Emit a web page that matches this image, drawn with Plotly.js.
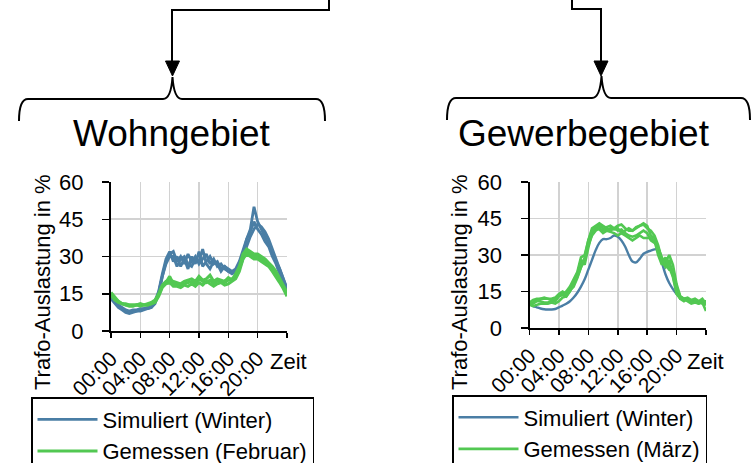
<!DOCTYPE html>
<html>
<head>
<meta charset="utf-8">
<script src="https://cdn.plot.ly/plotly-3.0.1.min.js"></script>
<style>html,body{margin:0;padding:0;background:#fff;}#chart{width:751px;height:463px;}</style>
</head>
<body>
<div id="chart"></div>
<script>
// ---- data (hours of day, 30-min steps) ----
const hours = [0,0.5,1,1.5,2,2.5,3,3.5,4,4.5,5,5.5,6,6.5,7,7.5,8,8.5,9,9.5,10,10.5,11,11.5,12,12.5,13,13.5,14,14.5,15,15.5,16,16.5,17,17.5,18,18.5,19,19.5,20,20.5,21,21.5,22,22.5,23,23.5,24];
const tickHours = [0,4,8,12,16,20,24];
const tickLabels = ["00:00","04:00","08:00","12:00","16:00","20:00",""];
const yTicks = [0,15,30,45,60];

// Wohngebiet – simulated (winter days)
const wohnSim1 = [13.5,11.5,10,9,8,7.5,8,8,8.5,9,9,9.5,11,15,22,28,31,32,28,30,27,31,28,30,27,29,31,27,29,26,27,25,24,24,25,28,33,37,40,44,41,39,36,34,30,27,23,20,16.5];
const wohnSim2 = [14,12,10.5,9.5,8.5,8,8.5,8.5,9,9,9.5,10,12,16,23,29,32,28,30,26,29,25,30,27,32,26,28,30,27,28,25,26,24,23,24,26,31,37,41,50,44,41,38,35,32,28,25,21,17];
const wohnSim3 = [13,11,9.5,8.5,7.5,7,7.5,8,8,8.5,9,9.5,11.5,15.5,22,27,30,30,26,29,30,27,26,29,28,33,27,25,28,27,24,26,25,24,23,25,29,34,38,41,43,42,40,37,33,29,25,21,17];
// Wohngebiet – measured (February days)
const wohnMeas1 = [15,13,12,11,10.5,10.5,10.5,10.5,10.5,10.5,10.5,11,12,14.5,18,19.5,22,19,19,18.5,19,19.5,20,19,21,20,19.5,20.5,19,20,20,19.5,20.5,21,22,25,30,32,31,30,30,29,28,27,25,23,20.5,18,15];
const wohnMeas2 = [14.5,12.5,11.5,11,10.5,10,10,10.5,10,10.5,10.5,11,11.5,14,17.5,19,19.5,18,18,17.5,18.5,18,19,18,19.5,18.5,20,19,18,19,19.5,18.5,19,20,21,24,29,31,30,29,29,28,27,26,24,22,19.5,17,14];
const wohnMeas3 = [15.5,13.5,12,11,11,10.5,10.5,10.5,11,10.5,11,11.5,12.5,15,18.5,20,20.5,20,19.5,19,20,20.5,21,20,22,20.5,21,22.5,20,21,20.5,20,21.5,20.5,23,26,31,33,32,31,31,30,29,27.5,26,24,21,18.5,15.5];

// Gewerbegebiet – simulated (winter)
const gewSim1 = [10,9,8.5,8,7.7,7.6,7.6,7.8,8.5,9.2,10,11,12.5,14.5,17,20,24,28,32,35,36.5,36.5,37,38,37.5,36,33.5,30,27.3,27,28.5,30.5,31.3,31.8,32.3,32.5,27,22,18.5,16,14,12.5,12,11.5,11.3,11,10.8,10.6,10.5];
// Gewerbegebiet – measured (March days)
const gewMeas1 = [10,10.5,11.5,12,12,12,12,12.5,14,15,14,16,19,22,28,26,33,39,41,42,41,40,41,40.5,41,39,40,41,40,41,42,43,42,38,37,31,27,25,28,22,15,12,11,12,11,10.5,11,12,10];
const gewMeas2 = [9.5,10,11,11,10.5,10.5,11,11,13,13.5,15,17,20,23,29,30,36,41,42,43,42,41,40,41,40,40.5,39,38,37.5,38,39,40,39,36,35,33,29,27,30,26,18,13,12,11.5,10.5,11,10,10.5,7];
const gewMeas3 = [10.5,11.5,12,12,12.5,12,11.5,12,13.5,14,13,15,18,21,25,28,34,38,40,41,40,41.5,42,41,42,42.5,41,40,40,41.5,42,42.5,41,40,38,34,28,26,24,24,17,13,12,12.5,11.5,12,11,10,9.5];
const gewMeas4 = [9.5,9,9.5,10,10,10,10.5,10,11,12.5,13,15.5,17,20.5,25,29,36,40,41,40.5,39,40,39.5,39,38,39,38,37,36,37,38,37,37,37,36,30,26,29,25,21,14,12,12,11,10,10.5,10,11,11];

const seriesSim = "Simuliert (Winter)";
const measLeft = "Gemessen (Februar)";
const measRight = "Gemessen (März)";

// ---- styling ----
const W = 751, H = 463;
const FONT = "Liberation Sans, Arial, sans-serif";
const BLUE = "#4a7ea5";
const GREEN = "#52c852";
const GRID = "#d2d2d2";

function mk(y, xa, ya, color, width, name, group, legend, show, shape) {
  return {x: hours, y: y, xaxis: xa, yaxis: ya, type: "scatter", mode: "lines",
    line: {color: color, width: width, shape: shape || "linear", smoothing: 1},
    name: name, legendgroup: group, legend: legend, showlegend: show, hoverinfo: "skip"};
}

const traces = [
  mk(wohnSim1, "x", "y", BLUE, 2.8, seriesSim, "ls", "legend", true),
  mk(wohnSim2, "x", "y", BLUE, 2.8, seriesSim, "ls", "legend", false),
  mk(wohnSim3, "x", "y", BLUE, 2.8, seriesSim, "ls", "legend", false),
  mk(wohnMeas1, "x", "y", GREEN, 3, measLeft, "lm", "legend", true),
  mk(wohnMeas2, "x", "y", GREEN, 3, measLeft, "lm", "legend", false),
  mk(wohnMeas3, "x", "y", GREEN, 3, measLeft, "lm", "legend", false),
  mk(gewSim1, "x2", "y2", BLUE, 2.4, seriesSim, "rs", "legend2", true, "spline"),
  mk(gewMeas1, "x2", "y2", GREEN, 2.6, measRight, "rm", "legend2", true),
  mk(gewMeas2, "x2", "y2", GREEN, 2.6, measRight, "rm", "legend2", false),
  mk(gewMeas3, "x2", "y2", GREEN, 2.6, measRight, "rm", "legend2", false),
  mk(gewMeas4, "x2", "y2", GREEN, 2.6, measRight, "rm", "legend2", false)
];

function xax(l, r, anchor) {
  return {domain: [l / W, r / W], anchor: anchor, range: [0, 24], tickmode: "array",
    tickvals: tickHours, ticktext: tickLabels, tickangle: -45,
    tickfont: {family: FONT, size: 21, color: "#000"},
    showgrid: true, gridcolor: GRID, gridwidth: 1.6, zeroline: false,
    showline: true, linecolor: "#000", linewidth: 2,
    ticks: "outside", ticklen: 5, tickwidth: 1.5, tickcolor: "#000", fixedrange: true, automargin: false};
}
function yax(top, bottom, anchor) {
  return {domain: [1 - bottom / H, 1 - top / H], anchor: anchor, range: [0, 60],
    tickmode: "array", tickvals: yTicks,
    tickfont: {family: FONT, size: 22, color: "#000"},
    showgrid: true, gridcolor: GRID, gridwidth: 1.6, zeroline: false,
    showline: true, linecolor: "#000", linewidth: 2,
    ticks: "outside", ticklen: 7, tickwidth: 1.5, tickcolor: "#000",
    ticklabelstandoff: 14, fixedrange: true, automargin: false};
}

function P(pts) { // pixel path -> paper path
  return pts.replace(/(-?[\d.]+),(-?[\d.]+)/g, (m, a, b) => (a / W).toFixed(5) + "," + (1 - b / H).toFixed(5));
}
function pathShape(d, fill) {
  return {type: "path", xref: "paper", yref: "paper", path: P(d),
    line: {color: "#000", width: fill ? 1 : 2}, fillcolor: fill ? "#000" : "rgba(0,0,0,0)", layer: "above"};
}

const shapes = [
  // left connector + arrow
  pathShape("M329,-2 L329,10 L172,10 L172,64"),
  pathShape("M165.5,61 L179.5,61 L172.5,76 Z", true),
  // left brace
  pathShape("M19,121 Q19,99 28,99 L163,99 Q171,99 172.5,77 Q174,99 182,99 L316,99 Q325,99 325,121"),
  // right connector + arrow
  pathShape("M572,-2 L572,9 L601,9 L601,64"),
  pathShape("M594,61 L608,61 L601,76 Z", true),
  // right brace
  pathShape("M447,120 Q447,98 456,98 L592,98 Q600,98 601.5,76 Q603,98 611,98 L741,98 Q750,98 750,120")
];

function ann(text, x, y, size, angle) {
  return {text: text, x: x / W, y: 1 - y / H, xref: "paper", yref: "paper",
    xanchor: "center", yanchor: "middle", showarrow: false, textangle: angle || 0,
    font: {family: FONT, size: size, color: "#000"}};
}

const annotations = [
  ann("Wohngebiet", 172, 133, 37),
  ann("Gewerbegebiet", 584, 133, 37),
  ann("Trafo-Auslastung in %", 42, 282, 22, -90),
  ann("Trafo-Auslastung in %", 459, 282, 22, -90),
  ann("Zeit", 288, 361, 22),
  ann("Zeit", 705, 361, 22)
];

function leg(x, y) {
  return {x: x / W, y: 1 - y / H, xref: "paper", yref: "paper", xanchor: "left", yanchor: "top",
    bordercolor: "#000", borderwidth: 1.5, bgcolor: "rgba(255,255,255,0)",
    font: {family: FONT, size: 22, color: "#000"}, traceorder: "grouped", tracegroupgap: 0,
    itemwidth: 60, itemclick: false, itemdoubleclick: false};
}

const layout = {
  width: W, height: H, margin: {l: 0, r: 0, t: 0, b: 0, pad: 0, autoexpand: false},
  paper_bgcolor: "#fff", plot_bgcolor: "#fff",
  font: {family: FONT, color: "#000"},
  xaxis: xax(111, 287, "y"),
  yaxis: yax(182, 331, "x"),
  xaxis2: xax(529.5, 706, "y2"),
  yaxis2: yax(182, 328, "x2"),
  legend: leg(31, 397),
  legend2: leg(452, 395),
  shapes: shapes,
  annotations: annotations,
  showlegend: true
};

Plotly.newPlot("chart", traces, layout, {displayModeBar: false, staticPlot: true});
</script>
</body>
</html>
